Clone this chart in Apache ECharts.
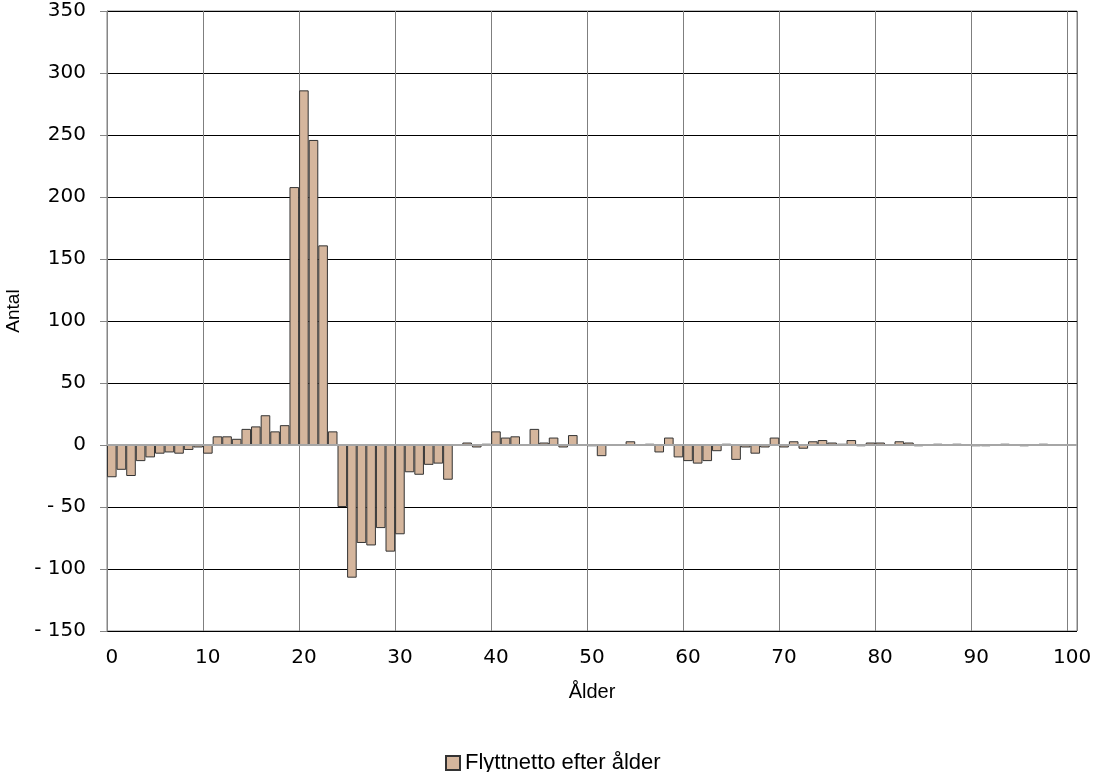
<!DOCTYPE html>
<html>
<head>
<meta charset="utf-8">
<script src="https://cdn.jsdelivr.net/npm/echarts@6/dist/echarts.min.js"></script>
<style>
html,body{margin:0;padding:0;background:#fff;}
#chart{width:1095px;height:772px;}
</style>
</head>
<body>
<div id="chart"></div>
<script>
// Ålder 0..100
const ages = [];
for (let i = 0; i <= 100; i++) ages.push(String(i));

const flyttnetto = [
  -26, -20, -25, -13, -10, -7, -6, -7, -4, -2,
  -7, 7, 7, 5, 13, 15, 24, 11, 16, 208,
  286, 246, 161, 11, -50, -107, -79, -81, -67, -86,
  -72, -22, -24, -16, -15, -28, 0, 2, -2, 1,
  11, 6, 7, 0, 13, 2, 6, -2, 8, 0,
  -1, -9, 0, 0, 3, 0, 1, -6, 6, -10,
  -13, -15, -13, -5, 1, -12, -2, -7, -2, 6,
  -2, 3, -3, 3, 4, 2, 1, 4, -1, 2,
  2, 0, 3, 2, -1, 0, 1, 0, 1, 0,
  -1, -1, 0, 1, 0, -1, 0, 1, 0, 0,
  0
];

const seriesName = 'Flyttnetto efter ålder';
const FONT = '"Liberation Sans", Arial, sans-serif';
const TICKFONT = '"DejaVu Sans", "Liberation Sans", sans-serif';

const chart = echarts.init(document.getElementById('chart'));
chart.setOption({
  backgroundColor: '#ffffff',
  animation: false,
  textStyle: { fontFamily: FONT },
  grid: {
    left: 107, right: 18, top: 11, bottom: 141,
    containLabel: false, outerBoundsMode: 'none',
    show: true, borderColor: '#808080', borderWidth: 1
  },
  legend: {
    data: [seriesName],
    left: 440, top: 747,
    icon: 'rect', itemWidth: 14, itemHeight: 14, itemGap: 5,
    textStyle: { fontFamily: FONT, fontSize: 22, color: '#000' }
  },
  xAxis: {
    type: 'category',
    data: ages,
    name: 'Ålder',
    nameLocation: 'middle',
    nameGap: 51,
    nameTextStyle: { fontFamily: FONT, fontSize: 20, color: '#000' },
    axisLine: { show: false, onZero: false },
    axisTick: { show: false, interval: 9 },
    axisLabel: { interval: 9, margin: 17, fontFamily: TICKFONT, fontSize: 20, color: '#000' },
    splitLine: { show: true, interval: 9, lineStyle: { color: '#7f7f7f', width: 1 } }
  },
  yAxis: {
    type: 'value',
    min: -150, max: 350, interval: 50,
    name: 'Antal',
    nameLocation: 'middle',
    nameGap: 81,
    nameRotate: 90,
    nameTextStyle: { fontFamily: FONT, fontSize: 19, color: '#000', padding: [0, 0, 0, 20] },
    axisLine: { show: true, lineStyle: { color: '#868686', width: 1 } },
    axisTick: { show: true, length: 7, lineStyle: { color: '#868686' } },
    axisLabel: {
      margin: 21, fontFamily: TICKFONT, fontSize: 20, color: '#000',
      formatter: v => v < 0 ? '- ' + Math.abs(v) : String(v)
    },
    splitLine: { show: true, lineStyle: { color: '#000', width: 1 } }
  },
  series: [{
    name: seriesName,
    type: 'bar',
    data: flyttnetto,
    barCategoryGap: '0%',
    itemStyle: { color: '#d5b69d', borderColor: '#333333', borderWidth: 1 },
    markLine: {
      silent: true,
      symbol: 'none',
      label: { show: false },
      lineStyle: { color: '#a6a6a6', type: 'solid', width: 2 },
      data: [{ yAxis: 0 }]
    }
  }]
});
</script>
</body>
</html>
